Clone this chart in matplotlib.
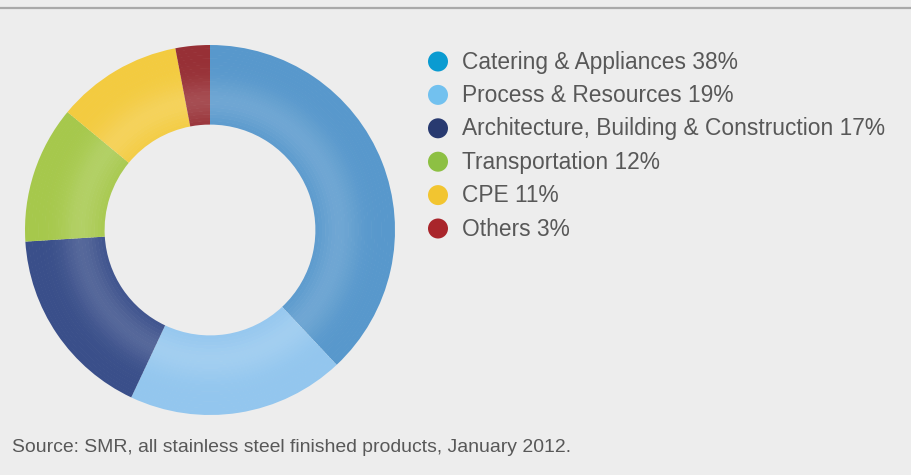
import numpy as np
import matplotlib.pyplot as plt
from matplotlib.patches import Circle
from matplotlib.colors import to_rgb

# Share of stainless steel finished products by end-use sector
sectors = ["Catering & Appliances", "Process & Resources",
           "Architecture, Building & Construction", "Transportation",
           "CPE", "Others"]
shares = [38, 19, 17, 12, 11, 3]

ring_colors = ["#5898cc", "#93c6ee", "#3a4f8a", "#a6c84c", "#f3cb40", "#973036"]
key_colors = ["#0a9bd1", "#72c1ef", "#283a70", "#8dc043", "#f2c530", "#a9252b"]

W, H = 911, 475
bg = "#ededed"

fig = plt.figure(figsize=(W / 100, H / 100), dpi=100, facecolor=bg)
ax = fig.add_axes([0, 0, 1, 1])
ax.set_xlim(0, W)
ax.set_ylim(0, H)
ax.set_aspect("equal")
ax.axis("off")

# top rule
ax.plot([0, W], [H - 7.5, H - 7.5], color="#a9a9a9", lw=1.6, solid_capstyle="butt")

# donut: stacked thin rings so each wedge gets a soft radial sheen
cx, cy = 210, H - 230
r_out, r_in = 185, 106
n_bands = 24
edges = np.linspace(r_in, r_out, n_bands + 1)
for i in range(n_bands):
    t = (i + 0.5) / n_bands
    glow = 0.14 * np.exp(-((t - 0.3) / 0.25) ** 2)
    cols = [tuple(c + (1 - c) * glow for c in to_rgb(col)) for col in ring_colors]
    ax.pie(shares, colors=cols, startangle=90, counterclock=False,
           center=(cx, cy), radius=edges[i + 1],
           wedgeprops=dict(width=edges[i + 1] - edges[i] + 0.6, linewidth=0),
           frame=True)
ax.set_xlim(0, W)
ax.set_ylim(0, H)
ax.axis("off")

# legend
y0, dy = H - 62, 33.4
for i, (name, val, col) in enumerate(zip(sectors, shares, key_colors)):
    y = y0 - i * dy
    ax.add_patch(Circle((438, y + 0.5), 10, color=col, lw=0))
    ax.text(462, y, f"{name} {val}%", fontsize=16.4, color="#585858",
            family="Liberation Sans", va="center", ha="left")

ax.text(12, H - 447, "Source: SMR, all stainless steel finished products, January 2012.",
        fontsize=13.95, color="#585858", family="Liberation Sans",
        va="center", ha="left")

fig.savefig("out.png", dpi=100, facecolor=bg)
